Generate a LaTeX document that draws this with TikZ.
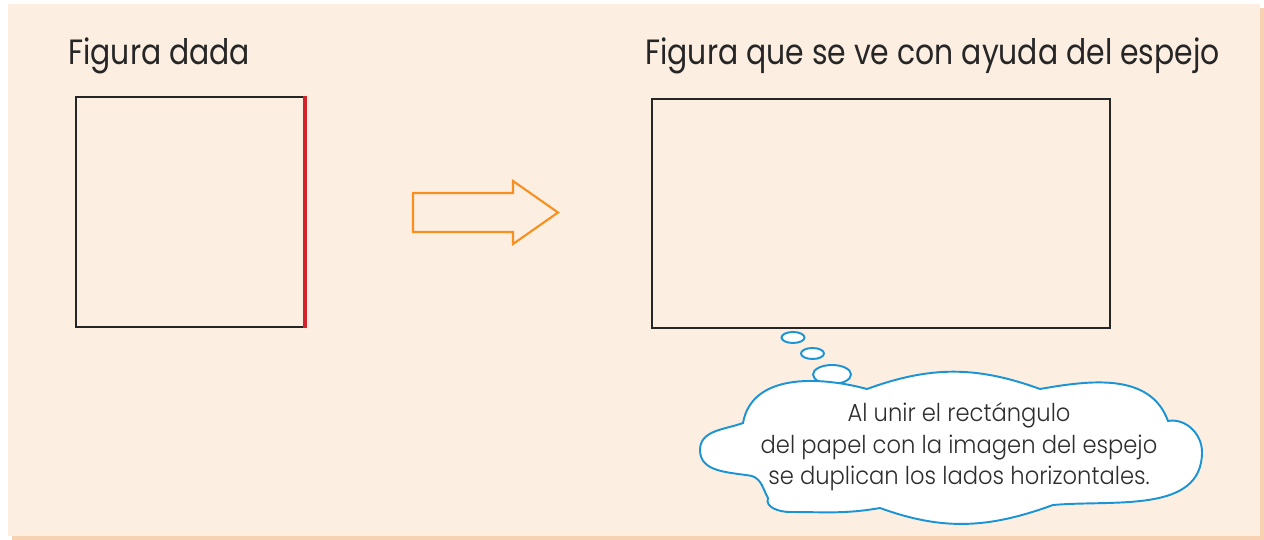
\documentclass[tikz,border=0pt]{standalone}
\usepackage{fontspec}
\setmainfont{Poppins}[FakeStretch=0.85]
\newfontfamily\notefont{Poppins Light}[FakeStretch=0.92]
\usetikzlibrary{positioning}
\definecolor{cream}{HTML}{FDEEE2}
\definecolor{peach}{HTML}{F8D2B0}
\definecolor{mirrorred}{HTML}{D2232A}
\definecolor{arroworange}{HTML}{F7901E}
\definecolor{cloudblue}{HTML}{1A94D4}
\definecolor{notegray}{HTML}{2E2E2E}
\tikzset{x=0.02cm, y=0.02cm, % one unit is one pixel of the layout
    figbox/.style=
    { % Sets the properties of the two figures
        draw=black!85,
        line width=1.3pt,
        inner sep=0pt
    },
    title/.style={font=\fontsize{20}{24}\selectfont, text=black!85, anchor=base west, inner sep=0pt},
    bubble/.style={draw=cloudblue, line width=1.1pt, fill=white}, % thought bubbles and cloud
    note/.style={font=\notefont\fontsize{14}{17.9}\selectfont, text=notegray, align=center, inner sep=0pt}
}

\begin{document}
\begin{tikzpicture}
\useasboundingbox (0,0) rectangle (1264,540);
\fill[peach] (12,0) rectangle (1264,532);
\fill[cream] (8,4) rectangle (1260,536);

\node [title] (t1) at (68,475) {Figura dada};
\node [title] (t2) at (645,475) {Figura que se ve con ayuda del espejo};

\node [figbox,minimum width=4.56cm,minimum height=4.6cm] (given) at (190,328) {};
\node [figbox,minimum width=9.16cm,minimum height=4.58cm] (seen) at (881,326.5) {};
\draw[mirrorred, line width=2.2pt] (given.north east) -- (given.south east);

% hollow arrow
\draw[arroworange, line width=1.2pt, line join=miter]
    (413,308) -- (513,308) -- (513,296) -- (558,327.5) -- (513,359) -- (513,347) -- (413,347) -- cycle;

% thought bubbles
\draw[bubble] (793,202.5) ellipse [x radius=11.5, y radius=5.5];
\draw[bubble] (812.5,186.5) ellipse [x radius=11.5, y radius=5.5];
\draw[bubble] (832,165.5) ellipse [x radius=19, y radius=9.5];

\draw[bubble]
    (743,117) to[out=80,in=165] (867,151)
    to[out=20,in=160] (1040,151)
    to[out=10,in=110] (1168,119)
    to[out=10,in=90] (1202,88)
    to[out=-90,in=5] (1053,35)
    to[out=-160,in=-20] (880,32)
    to[out=-170,in=0] (790,28)
    to[out=180,in=-110] (768,42)
    to[out=120,in=-20] (752,64)
    to[out=170,in=-90] (700,90)
    to[out=90,in=200] cycle;

\node [note] (msg) at (959,93) {Al unir el rectángulo\\del papel con la imagen del espejo\\se duplican los lados horizontales.};
\end{tikzpicture}
\end{document}
